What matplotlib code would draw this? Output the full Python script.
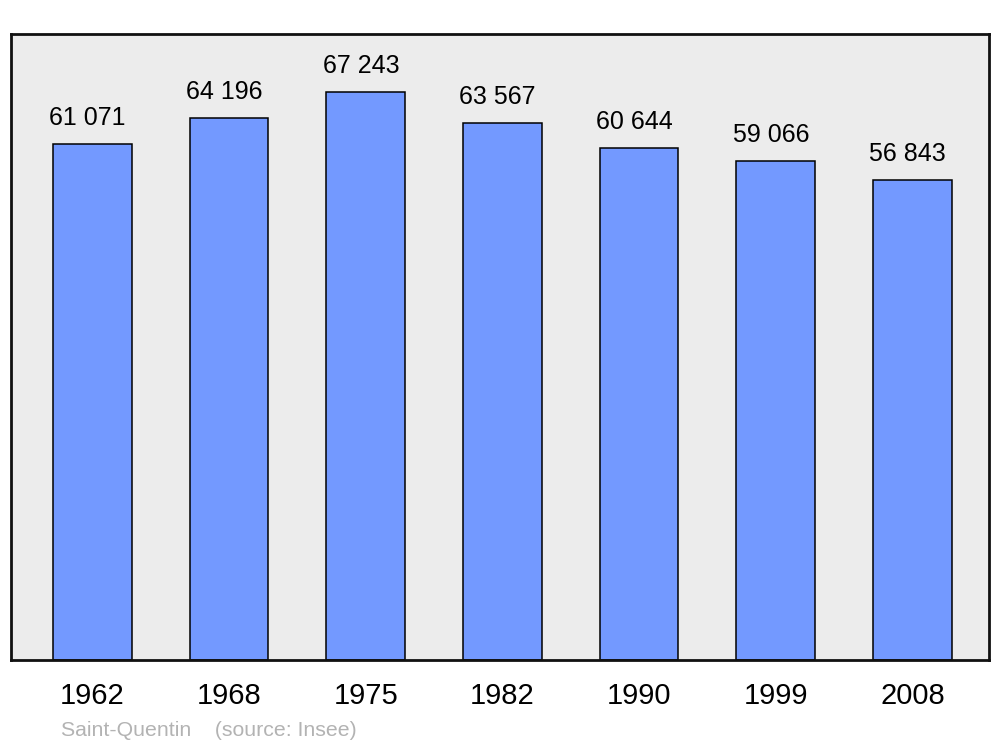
import matplotlib
matplotlib.use("Agg")
import matplotlib.pyplot as plt

years = ["1962", "1968", "1975", "1982", "1990", "1999", "2008"]
population = [61071, 64196, 67243, 63567, 60644, 59066, 56843]
value_labels = ["61 071", "64 196", "67 243", "63 567", "60 644", "59 066", "56 843"]
footer = "Saint-Quentin    (source: Insee)"

plt.rcParams['font.family'] = ['Liberation Sans', 'DejaVu Sans']

fig = plt.figure(figsize=(10, 7.47), dpi=100)
ax = fig.add_axes([0.011, 0.1165, 0.978, 0.838])
ax.set_facecolor('#ececec')

x = list(range(len(years)))
ax.bar(x, population, width=0.575, color='#7399ff', edgecolor='black', linewidth=1.1, zorder=2)

for xi, v, lab in zip(x, population, value_labels):
    ax.annotate(lab, (xi, v), xytext=(-3.5, 13.5), textcoords='offset points',
                ha='center', va='baseline', fontsize=18, color='black')

ax.set_xlim(-0.595, 6.56)
ax.set_ylim(0, 74100)
ax.set_xticks(x)
ax.set_xticklabels(years, fontsize=21)
ax.tick_params(axis='x', length=0, pad=16)
for lbl in ax.get_xticklabels():
    lbl.set_x(lbl.get_position()[0])
ax.set_yticks([])
for s in ax.spines.values():
    s.set_linewidth(2.0)
    s.set_color('#111111')

fig.text(0.061, 0.0215, footer, fontsize=15.3, color='#b3b3b3', ha='left', va='center')

fig.savefig('out.png', dpi=100, facecolor='white')
